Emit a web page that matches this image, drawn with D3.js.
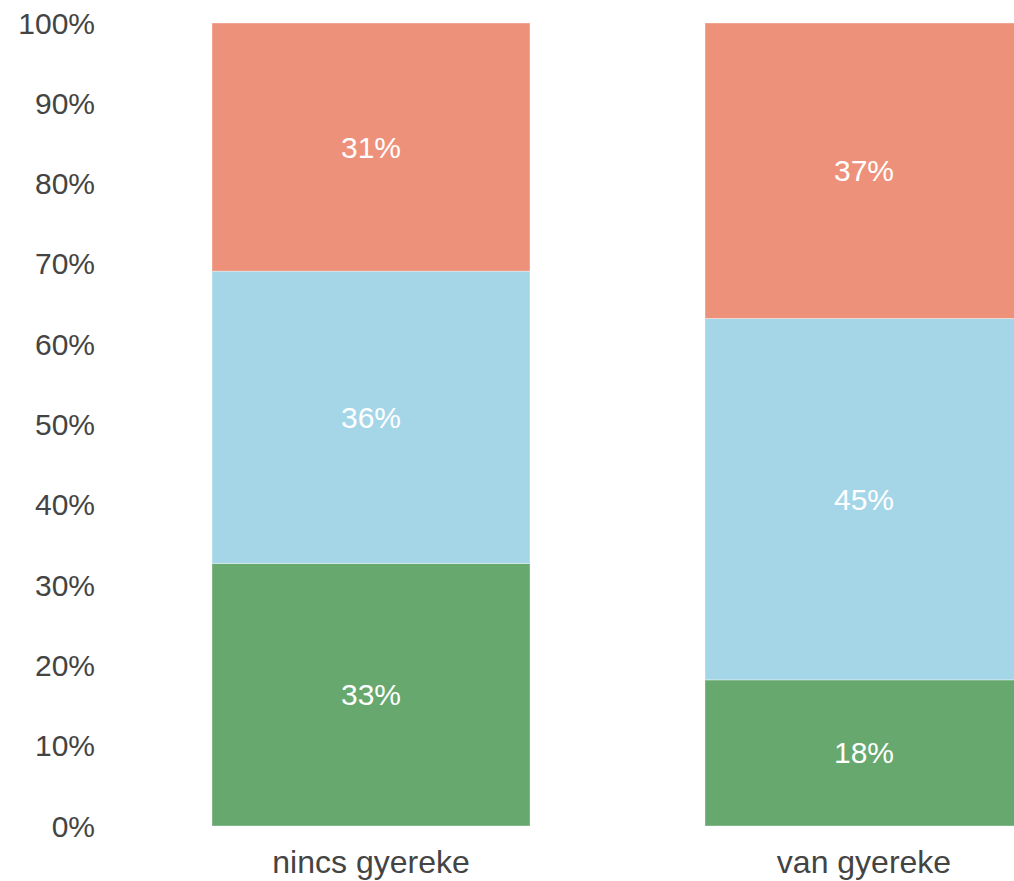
<!DOCTYPE html>
<html lang="hu">
<head>
    <meta charset="UTF-8">
    <title>Stacked bars</title>
    <script src="https://d3js.org/d3.v7.min.js"></script>
    <style>
        body { margin: 0; background: #fff; font-family: "Liberation Sans", Arial, sans-serif; }
        .tick-label { fill: #444; font-size: 30px; }
        .tick-label.x { font-size: 32px; }
        .seg-label { fill: #fff; font-size: 30px; }
    </style>
</head>
<body>
    <svg width="1014" height="881"></svg>
    <script>
        // data
        const categories = ["nincs gyereke", "van gyereke"];
        const seriesKeys = ["green", "blue", "salmon"];
        const greenValues = [32.7, 18.2];
        const blueValues = [36.4, 45.0];
        const salmonValues = [30.9, 36.8];
        const yTicks = [0, 10, 20, 30, 40, 50, 60, 70, 80, 90, 100];

        const colors = { green: "#66a86d", blue: "#a4d6e8", salmon: "#ee917a" };

        const rows = categories.map((c, i) => ({
            cat: c, green: greenValues[i], blue: blueValues[i], salmon: salmonValues[i]
        }));

        const svg = d3.select("svg");

        const x = d3.scaleBand()
            .domain(categories)
            .range([124.5, 1110.5])
            .paddingInner(0.355)
            .paddingOuter(0.1775);

        const y = d3.scaleLinear()
            .domain([0, 100])
            .range([826, 23]);

        const stack = d3.stack().keys(seriesKeys)(rows);

        // bars
        const layers = svg.selectAll("g.layer")
            .data(stack)
            .join("g")
            .attr("class", "layer")
            .attr("fill", d => colors[d.key]);

        layers.selectAll("rect")
            .data(d => d)
            .join("rect")
            .attr("x", d => x(d.data.cat))
            .attr("y", d => y(d[1]))
            .attr("width", x.bandwidth())
            .attr("height", d => y(d[0]) - y(d[1]))
            .attr("stroke", "#fff")
            .attr("stroke-opacity", 0.35)
            .attr("stroke-width", 1);

        layers.selectAll("text")
            .data(d => d)
            .join("text")
            .attr("class", "seg-label")
            .attr("x", d => x(d.data.cat) + x.bandwidth() / 2)
            .attr("y", d => (y(d[0]) + y(d[1])) / 2)
            .attr("dy", "0.35em")
            .attr("text-anchor", "middle")
            .text(d => Math.round(d[1] - d[0]) + "%");

        // y axis labels
        svg.selectAll("text.tick-label.y")
            .data(yTicks)
            .join("text")
            .attr("class", "tick-label y")
            .attr("x", 95)
            .attr("y", d => y(d))
            .attr("dy", "0.35em")
            .attr("text-anchor", "end")
            .text(d => d + "%");

        // x axis labels
        svg.selectAll("text.tick-label.x")
            .data(categories)
            .join("text")
            .attr("class", "tick-label x")
            .attr("x", d => x(d) + x.bandwidth() / 2)
            .attr("y", 873)
            .attr("text-anchor", "middle")
            .text(d => d);
    </script>
</body>
</html>
